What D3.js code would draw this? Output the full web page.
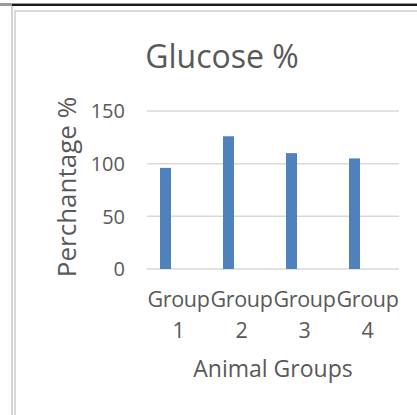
<!DOCTYPE html>
<html>
<head>
<meta charset="utf-8">
<script src="https://cdn.jsdelivr.net/npm/d3@7"></script>
<style>
  body { margin: 0; background: white; }
  text { font-family: "Open Sans", "Liberation Sans", sans-serif; fill: #595959; }
</style>
</head>
<body>
<div id="chart"></div>
<script>
const groups = ["Group 1", "Group 2", "Group 3", "Group 4"]
const glucose = [96, 126, 110, 105]
const yTicks = [0, 50, 100, 150]

const width = 417, height = 415

const svg = d3.select("#chart").append("svg")
    .attr("width", width)
    .attr("height", height)

// frame around the chart, like the spreadsheet window edge
svg.append("rect").attr("x", 0).attr("y", 3).attr("width", width).attr("height", 3).attr("fill", "#9a9a9a")
svg.append("rect").attr("x", 12).attr("y", 4).attr("width", width).attr("height", 2).attr("fill", "#1a1a1a")
svg.append("rect").attr("x", 11).attr("y", 6).attr("width", 2).attr("height", height).attr("fill", "#d4d4d4")
svg.append("rect").attr("x", 14).attr("y", 10).attr("width", 2).attr("height", height).attr("fill", "#d9d9d9")
svg.append("rect").attr("x", 14).attr("y", 10).attr("width", width).attr("height", 2).attr("fill", "#d9d9d9")

const x = d3.scaleBand()
    .domain(groups)
    .range([147, 399])

const y = d3.scaleLinear()
    .domain([0, 150])
    .range([269, 111])

// gridlines
svg.selectAll(".grid")
    .data(yTicks)
    .join("line")
    .attr("class", "grid")
    .attr("x1", 147)
    .attr("x2", 399)
    .attr("y1", d => y(d))
    .attr("y2", d => y(d))
    .attr("stroke", "#d9d9d9")
    .attr("stroke-width", 1.5)

// bars sit left of the category centre (first series of a cluster)
const barW = 11
svg.selectAll(".bar")
    .data(glucose)
    .join("rect")
    .attr("class", "bar")
    .attr("x", (d, i) => x(groups[i]) + 13)
    .attr("y", d => y(d))
    .attr("width", barW)
    .attr("height", d => y(0) - y(d))
    .attr("fill", "#4f81bd")

// y tick labels
svg.selectAll(".ytick")
    .data(yTicks)
    .join("text")
    .attr("class", "ytick")
    .attr("x", 125)
    .attr("y", d => y(d))
    .attr("dy", "0.36em")
    .attr("text-anchor", "end")
    .style("font-size", "20px")
    .text(d => d)

// x tick labels, wrapped on two lines
const xt = svg.selectAll(".xtick")
    .data(groups)
    .join("text")
    .attr("class", "xtick")
    .attr("text-anchor", "middle")
    .style("font-size", "21.5px")
    .style("letter-spacing", "-0.3px")

xt.append("tspan")
    .attr("x", d => x(d) + x.bandwidth() / 2)
    .attr("y", 307)
    .text(d => d.split(" ")[0])
xt.append("tspan")
    .attr("x", d => x(d) + x.bandwidth() / 2)
    .attr("y", 338)
    .text(d => d.split(" ")[1])

svg.append("text")
    .attr("x", 273)
    .attr("y", 377)
    .attr("text-anchor", "middle")
    .style("font-size", "23px")
    .text("Animal Groups")

svg.append("text")
    .attr("transform", "translate(76,187) rotate(-90)")
    .attr("text-anchor", "middle")
    .style("font-size", "26px")
    .text("Perchantage %")

svg.append("text")
    .attr("x", 222)
    .attr("y", 68)
    .attr("text-anchor", "middle")
    .style("font-size", "32px")
    .text("Glucose %")
</script>
</body>
</html>
